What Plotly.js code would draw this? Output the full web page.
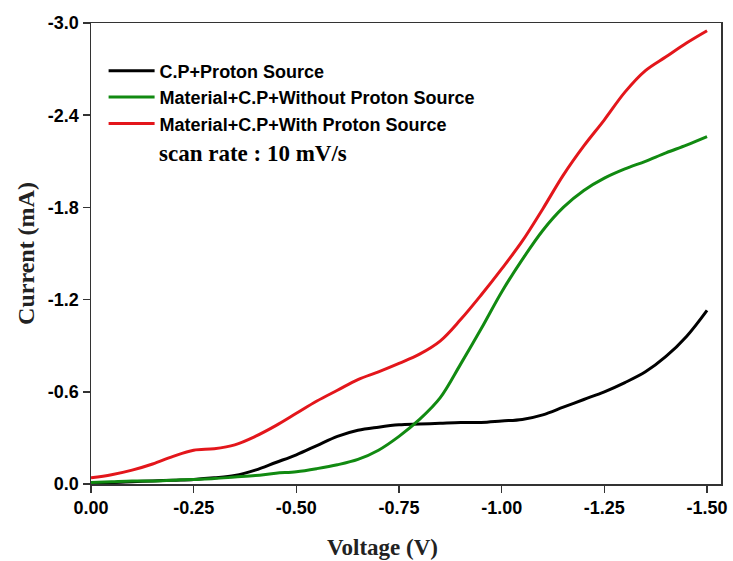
<!DOCTYPE html>
<html>
<head>
<meta charset="utf-8">
<script src="https://cdn.plot.ly/plotly-3.0.1.min.js"></script>
<style>html,body{margin:0;padding:0;background:#fff;}#chart{width:733px;height:561px;}</style>
</head>
<body>
<div id="chart"></div>
<script>
const voltage = [0, -0.05, -0.10, -0.15, -0.20, -0.25, -0.30, -0.35, -0.40, -0.45, -0.50,
  -0.55, -0.60, -0.65, -0.70, -0.75, -0.80, -0.85, -0.90, -0.95, -1.00,
  -1.05, -1.10, -1.15, -1.20, -1.25, -1.30, -1.35, -1.40, -1.45, -1.50];

const cpProton = [-0.01, -0.01, -0.015, -0.02, -0.025, -0.03, -0.04, -0.055, -0.09, -0.14, -0.19,
  -0.25, -0.31, -0.35, -0.37, -0.385, -0.39, -0.395, -0.40, -0.40, -0.41,
  -0.42, -0.45, -0.50, -0.55, -0.60, -0.66, -0.73, -0.83, -0.96, -1.13];

const matWithoutProton = [-0.01, -0.015, -0.02, -0.02, -0.025, -0.03, -0.035, -0.045, -0.055, -0.07, -0.08,
  -0.10, -0.125, -0.16, -0.22, -0.31, -0.42, -0.56, -0.78, -1.01, -1.25,
  -1.46, -1.65, -1.80, -1.91, -1.99, -2.05, -2.10, -2.155, -2.205, -2.26];

const matWithProton = [-0.04, -0.06, -0.09, -0.13, -0.18, -0.22, -0.23, -0.255, -0.31, -0.38, -0.46,
  -0.54, -0.61, -0.68, -0.73, -0.785, -0.845, -0.93, -1.07, -1.23, -1.40,
  -1.58, -1.79, -2.01, -2.20, -2.37, -2.55, -2.69, -2.78, -2.87, -2.95];

const seriesNames = ["C.P+Proton Source", "Material+C.P+Without Proton Source", "Material+C.P+With Proton Source"];
const xTickVals = [0, -0.25, -0.5, -0.75, -1.0, -1.25, -1.5];
const xTickText = ["0.00", "-0.25", "-0.50", "-0.75", "-1.00", "-1.25", "-1.50"];
const yTickVals = [0, -0.6, -1.2, -1.8, -2.4, -3.0];
const yTickText = ["0.0", "-0.6", "-1.2", "-1.8", "-2.4", "-3.0"];

const colors = ["#000000", "#118a11", "#e3161b"];
const ys = [cpProton, matWithoutProton, matWithProton];

const traces = ys.map((y, i) => ({
  x: voltage, y: y, type: "scatter", mode: "lines",
  name: seriesNames[i],
  line: {color: colors[i], width: 3, shape: "spline", smoothing: 1}
}));

const axisCommon = {
  showgrid: false, zeroline: false, showline: true, linecolor: "#333", linewidth: 1.5,
  mirror: true, ticks: "outside", ticklen: 7, tickwidth: 1.5, tickcolor: "#333",
  tickfont: {family: "Liberation Sans, Arial", size: 18, color: "#000", weight: "bold"}
};

const titleFont = {family: "Liberation Serif, Times New Roman", size: 23, color: "#222", weight: "bold"};

const layout = {
  width: 733, height: 561,
  margin: {l: 91, r: 12, t: 23, b: 77},
  paper_bgcolor: "#fff", plot_bgcolor: "#fff",
  showlegend: true,
  legend: {
    x: 0.02, y: 0.936, xanchor: "left", yanchor: "top", itemwidth: 46,
    bgcolor: "rgba(0,0,0,0)", borderwidth: 0,
    font: {family: "Liberation Sans, Arial", size: 18, color: "#000", weight: "bold"}
  },
  xaxis: Object.assign({}, axisCommon, {
    range: [0, -1.534], tickvals: xTickVals, ticktext: xTickText
  }),
  yaxis: Object.assign({}, axisCommon, {
    range: [0, -3.0], tickvals: yTickVals, ticktext: yTickText,
    title: {text: "Current (mA)", standoff: 6, font: Object.assign({}, titleFont, {size: 24})}
  }),
  annotations: [{
    xref: "paper", yref: "paper", x: 0.105, y: 0.718, xanchor: "left", yanchor: "middle",
    text: "scan rate : 10 mV/s", showarrow: false,
    font: {family: "Liberation Serif, Times New Roman", size: 23, color: "#000", weight: "bold"}
  }, {
    xref: "paper", yref: "paper", x: (382 - 91) / 630, y: -(547 - 484) / 461,
    xanchor: "center", yanchor: "middle", showarrow: false,
    text: "Voltage (V)", font: titleFont
  }]
};

Plotly.newPlot("chart", traces, layout, {displayModeBar: false, staticPlot: true});
</script>
</body>
</html>
